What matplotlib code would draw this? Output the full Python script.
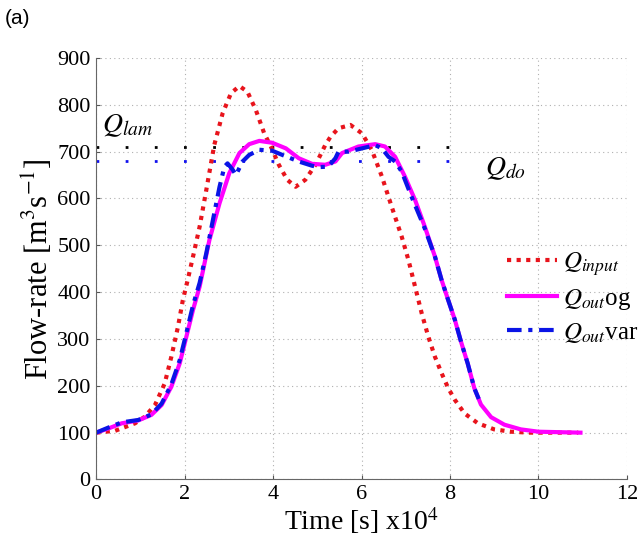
import matplotlib
matplotlib.use("Agg")
import matplotlib.pyplot as plt

# time axis in units of 1e4 s, flow-rate in m3/s
x_in = [0, 0.43, 0.88, 1.10, 1.33, 1.55, 1.70, 1.85, 1.96, 2.07, 2.2, 2.34, 2.49,
        2.67, 2.86, 3.05, 3.24, 3.42, 3.61, 3.80, 3.95, 4.13, 4.32, 4.51, 4.73,
        4.96, 5.18, 5.30, 5.48, 5.75, 6.01, 6.23, 6.46, 6.68, 6.91, 7.06, 7.21,
        7.36, 7.51, 7.66, 7.81, 7.96, 8.11, 8.33, 8.63, 9.0, 9.38, 9.8, 10.9]
q_in = [100, 104, 120, 134, 159, 205, 262, 326, 383, 426, 480, 540, 618,
        714, 782, 825, 840, 828, 789, 739, 711, 672, 640, 625, 640,
        672, 714, 732, 750, 757, 739, 704, 647, 583, 518, 469, 412,
        355, 305, 262, 227, 195, 170, 141, 120, 107, 102, 100, 100]

x_og = [0, 0.28, 0.58, 0.95, 1.25, 1.48, 1.70, 1.89, 2.04, 2.19, 2.34, 2.56, 2.79,
        3.01, 3.24, 3.46, 3.69, 3.98, 4.29, 4.58, 4.88, 5.18, 5.41, 5.56, 5.93,
        6.31, 6.53, 6.76, 6.98, 7.21, 7.43, 7.66, 7.81, 7.96, 8.11, 8.25, 8.40,
        8.55, 8.70, 8.93, 9.23, 9.60, 10.0, 10.95]
q_og = [100, 109, 120, 126, 138, 159, 198, 248, 305, 362, 412, 511, 590,
        654, 697, 716, 723, 719, 707, 686, 674, 672, 679, 697, 711,
        716, 711, 689, 647, 597, 540, 476, 426, 383, 341, 294, 248,
        195, 160, 133, 117, 107, 102, 100]

x_var = [0, 0.28, 0.58, 0.95, 1.25, 1.48, 1.70, 1.89, 2.04, 2.19, 2.34, 2.49, 2.64,
         2.79, 2.90, 2.97, 3.09, 3.16, 3.31, 3.46, 3.69, 3.98, 4.21, 4.58, 4.88,
         5.03, 5.25, 5.41, 5.48, 5.71, 6.01, 6.31, 6.46, 6.61, 6.76, 6.91, 7.13,
         7.43, 7.66, 7.81, 7.96, 8.11, 8.25, 8.40, 8.55, 8.65]
q_var = [100, 111, 122, 127, 139, 162, 203, 255, 313, 372, 420, 483, 554,
         625, 668, 675, 661, 650, 679, 693, 704, 702, 693, 679, 670,
         667, 668, 686, 700, 700, 707, 714, 707, 689, 679, 657, 604,
         536, 476, 426, 383, 341, 294, 248, 195, 172]

q_lam = 710
q_do = 680
ref_end = 8.4

plt.rcParams['font.family'] = ['Liberation Serif', 'DejaVu Serif']
plt.rcParams['mathtext.fontset'] = 'stix'

fig = plt.figure(figsize=(6.41, 5.44), dpi=100)
ax = fig.add_axes([0.150, 0.1186, 0.828, 0.7748])

ax.plot([0, ref_end], [q_lam, q_lam], color='black', lw=2, dashes=(1, 9.5))
ax.plot([0, ref_end], [q_do, q_do], color='#1010ee', lw=2, dashes=(1, 9.5))

ax.plot(x_in, q_in, color='#e8141c', lw=3, linestyle=(0, (1, 1.3)), label='$Q_{input}$')
ax.plot(x_og, q_og, color='#ff00ff', lw=3, label='$Q_{out}$og')
ax.plot(x_var, q_var, color='#0a14e6', lw=3, dashes=(3.5, 1.6, 1, 1.6), label='$Q_{out}$var')

ax.text(0.13, 742, '$Q_{lam}$', fontsize=20, ha='left', va='baseline')
ax.text(8.79, 650, '$Q_{do}$', fontsize=20, ha='left', va='baseline')

ax.set_xlim(0, 12)
ax.set_ylim(0, 900)
ax.set_xticks(range(0, 13, 2))
ax.set_yticks(range(0, 901, 100))
ax.grid(True, color='#b0b0b0', linestyle=(0, (1, 3)), lw=0.8)
ax.tick_params(labelsize=16, direction='in', length=3, color='#555555', pad=4)
for s in ['top', 'right']:
    ax.spines[s].set_visible(False)
for s in ['left', 'bottom']:
    ax.spines[s].set_color('#666666')

ax.set_xlabel('Time [s] x10$^4$', fontsize=20, labelpad=1)
ax.set_ylabel('Flow-rate [m$^3$s$^{-1}$]', fontsize=22, labelpad=2)

ax.legend(loc='center left', bbox_to_anchor=(0.755, 0.431), borderaxespad=0,
          frameon=False, fontsize=18, handlelength=2.0, handletextpad=0.25,
          labelspacing=0.35)

fig.text(0.008, 0.955, '(a)', fontsize=15, family='Liberation Sans')

fig.savefig('out.png', dpi=100)
